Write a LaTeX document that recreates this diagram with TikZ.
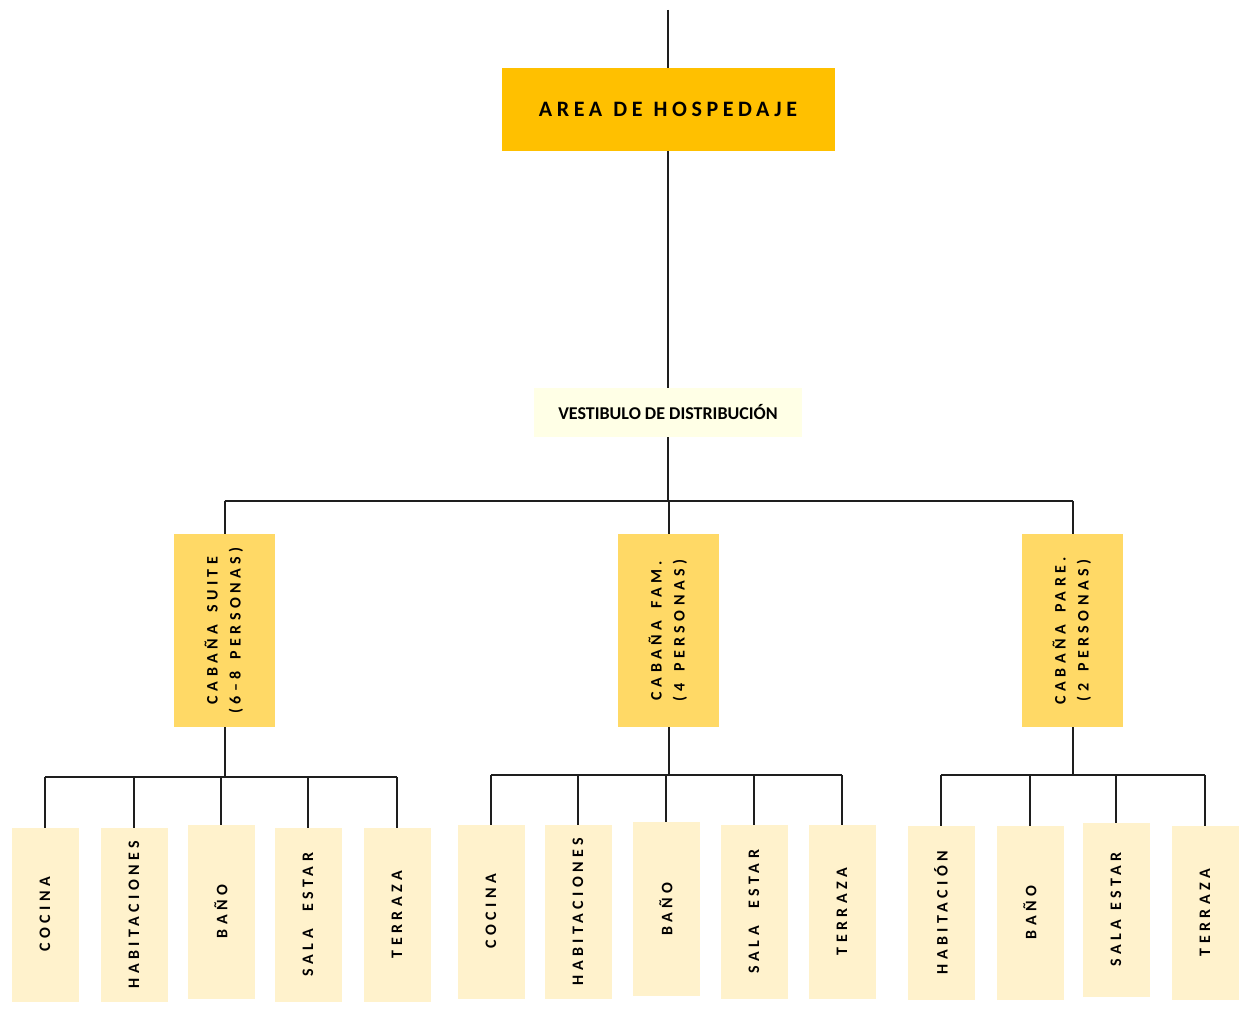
\documentclass[tikz,border=0pt]{standalone}
\usepackage{fontspec}
\setmainfont{Carlito}
\newfontfamily\titlefont{Carlito}[LetterSpace=21]
\newfontfamily\boxfont{Carlito}[LetterSpace=28]
\definecolor{topc}{HTML}{FFC000}
\definecolor{vestc}{HTML}{FFFFE6}
\definecolor{cabc}{HTML}{FFD966}
\definecolor{leafc}{HTML}{FFF2CC}
\definecolor{linec}{HTML}{1E1E1E}
\begin{document}
\begin{tikzpicture}[x=1pt,y=-1pt,
  every node/.style={inner sep=0pt, outer sep=0pt},
  conn/.style={draw=linec, line width=2pt},
  topbox/.style={fill=topc, minimum width=333pt, minimum height=83pt,
    font=\titlefont\bfseries\fontsize{22}{26}\selectfont},
  vestbox/.style={fill=vestc, minimum width=268pt, minimum height=49pt,
    font=\bfseries\fontsize{18}{21}\selectfont},
  cabbox/.style={fill=cabc, minimum width=101pt, minimum height=193pt,
    font=\boxfont\bfseries\fontsize{16}{23}\selectfont},
  leafbox/.style={fill=leafc, minimum width=67pt, minimum height=174pt,
    font=\boxfont\bfseries\fontsize{16}{19}\selectfont}
]
\useasboundingbox (0,0) rectangle (1243,1014);
\newcommand{\vtxt}[1]{\rotatebox{90}{#1}}
\newcommand{\vtwo}[2]{\rotatebox{90}{\begin{tabular}{@{}c@{}}#1\\#2\end{tabular}}}
\newcommand{\wg}{\hspace{12pt}}
\newcommand{\tg}{\hspace{11pt}}

% main nodes
\coordinate (topend) at (668,10);
\node[topbox] (area) at (668,109.5) {AREA\tg DE\tg HOSPEDAJE};
\node[vestbox] (vest) at (668,412.5) {VESTIBULO DE DISTRIBUCIÓN};

\node[cabbox] (cab1) at (224.5,630.5) {\vtwo{CABAÑA\wg SUITE}{(6–8\wg PERSONAS)}};
\node[cabbox] (cab2) at (668.5,630.5) {\vtwo{CABAÑA\wg FAM.}{(4\wg PERSONAS)}};
\node[cabbox] (cab3) at (1072.5,630.5) {\vtwo{CABAÑA\wg PARE.}{(2\wg PERSONAS)}};

% group 1
\node[leafbox] (a1) at (45,914.5) {\vtxt{COCINA}};
\node[leafbox] (a2) at (134,914.5) {\vtxt{HABITACIONES}};
\node[leafbox] (a3) at (221,911.5) {\vtxt{BAÑO}};
\node[leafbox] (a4) at (308,914.5) {\vtxt{SALA\hspace{18pt}ESTAR}};
\node[leafbox] (a5) at (397,914.5) {\vtxt{TERRAZA}};
% group 2
\node[leafbox] (b1) at (491,911.5) {\vtxt{COCINA}};
\node[leafbox] (b2) at (578,911.5) {\vtxt{HABITACIONES}};
\node[leafbox] (b3) at (666,909) {\vtxt{BAÑO}};
\node[leafbox] (b4) at (754,911.5) {\vtxt{SALA\hspace{18pt}ESTAR}};
\node[leafbox] (b5) at (842,911.5) {\vtxt{TERRAZA}};
% group 3
\node[leafbox] (c1) at (941,912.5) {\vtxt{HABITACIÓN}};
\node[leafbox] (c2) at (1030,912.5) {\vtxt{BAÑO}};
\node[leafbox] (c3) at (1116,909.5) {\vtxt{SALA\hspace{9pt}ESTAR}};
\node[leafbox] (c4) at (1205,912.5) {\vtxt{TERRAZA}};

% bus levels
\coordinate (busv) at (668,501);
\coordinate (bus1) at (0,777);
\coordinate (bus2) at (0,775);
\coordinate (bus3) at (0,775);

% connectors
\draw[conn] (topend) -- (area.north);
\draw[conn] (area.south) -- (vest.north);
\draw[conn] (vest.south) -- (vest.south |- busv);
\draw[conn] (cab1.north |- busv) -- (cab3.north |- busv);
\foreach \c in {cab1,cab2,cab3} \draw[conn] (\c.north |- busv) -- (\c.north);

\draw[conn] (cab1.south) -- (cab1.south |- bus1);
\draw[conn] (a1.north |- bus1) -- (a5.north |- bus1);
\foreach \n in {a1,a2,a3,a4,a5} \draw[conn] (\n.north |- bus1) -- (\n.north);

\draw[conn] (cab2.south) -- (cab2.south |- bus2);
\draw[conn] (b1.north |- bus2) -- (b5.north |- bus2);
\foreach \n in {b1,b2,b3,b4,b5} \draw[conn] (\n.north |- bus2) -- (\n.north);

\draw[conn] (cab3.south) -- (cab3.south |- bus3);
\draw[conn] (c1.north |- bus3) -- (c4.north |- bus3);
\foreach \n in {c1,c2,c3,c4} \draw[conn] (\n.north |- bus3) -- (\n.north);
\end{tikzpicture}
\end{document}
